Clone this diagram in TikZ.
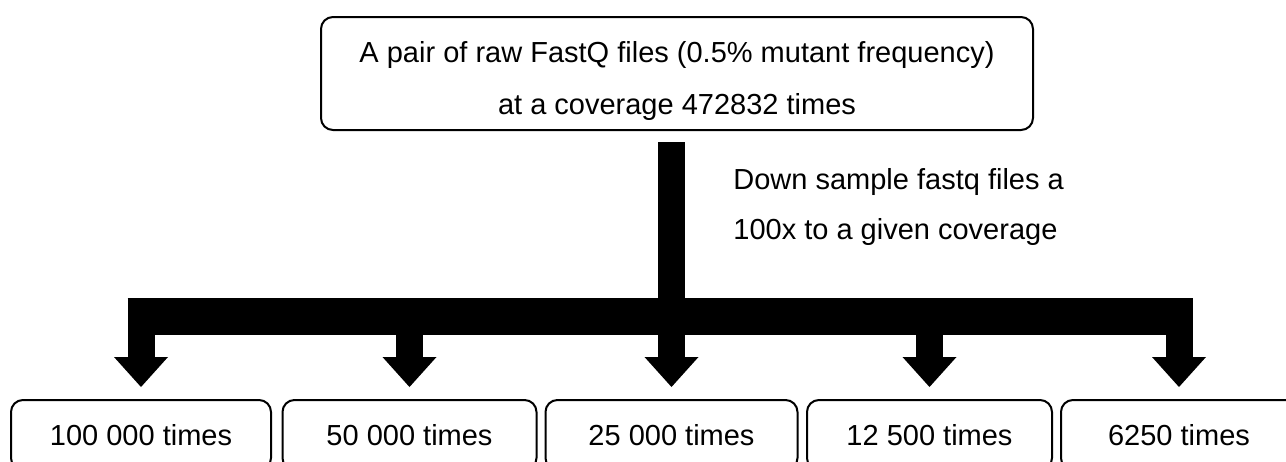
\documentclass[tikz,border=0pt]{standalone}
\usepackage{fontspec}
\setmainfont{Liberation Sans}
\usetikzlibrary{arrows.meta}

\begin{document}
\begin{tikzpicture}[
    x=0.5pt, y=-0.5pt,
    every node/.style={font=\fontsize{14.5}{26}\selectfont},
    box/.style={
        draw=black, rounded corners=6pt, line width=1pt,
        align=center, minimum width=#1, inner sep=0pt
    },
    trunk/.style={
        line width=13.5pt, draw=black
    },
    bar/.style={
        line width=18.5pt, draw=black, shorten <=-6.75pt, shorten >=-6.75pt
    },
    branch/.style={
        line width=13.5pt, draw=black, shorten >=6pt,
        -{Triangle[length=15pt, width=27pt, line width=0pt]}
    }
]

% Page frame
\path[fill=white, use as bounding box] (0,0) rectangle (1286,461);

% Source reads
\node[box=356pt, minimum height=56.5pt] (src) at (677,73.5) {
    \rule{0pt}{18pt}A pair of raw FastQ files (0.5\% mutant frequency)\\
    at a coverage 472832 times
};
\node[anchor=west, align=left, inner sep=0pt, font=\fontsize{14.5}{25}\selectfont] (note) at (733,207) {
    Down sample fastq files a\\
    100x to a given coverage
};

% Target coverages
\node[box=130pt, minimum height=35pt] (n1) at (141,435) {100 000 times};
\node[box=127pt, minimum height=35pt] (n2) at (409.5,435) {50 000 times};
\node[box=126pt, minimum height=35pt] (n3) at (671.5,435) {25 000 times};
\node[box=122.5pt, minimum height=35pt] (n4) at (929.5,435) {12 500 times};
\node[box=118pt, minimum height=35pt] (n5) at (1179,435) {6250 times};

% Down-sampling flow
\coordinate (fork) at (671,316.5);
\draw[trunk, shorten <=5.5pt] ([xshift=-3pt]src.south) -- ([xshift=-3pt]src.south |- fork);
\draw[bar] (n1.north |- fork) -- (n5.north |- fork);
\foreach \n in {n1,n2,n3,n4,n5}
    \draw[branch] (\n.north |- fork) -- (\n.north);

\end{tikzpicture}
\end{document}
